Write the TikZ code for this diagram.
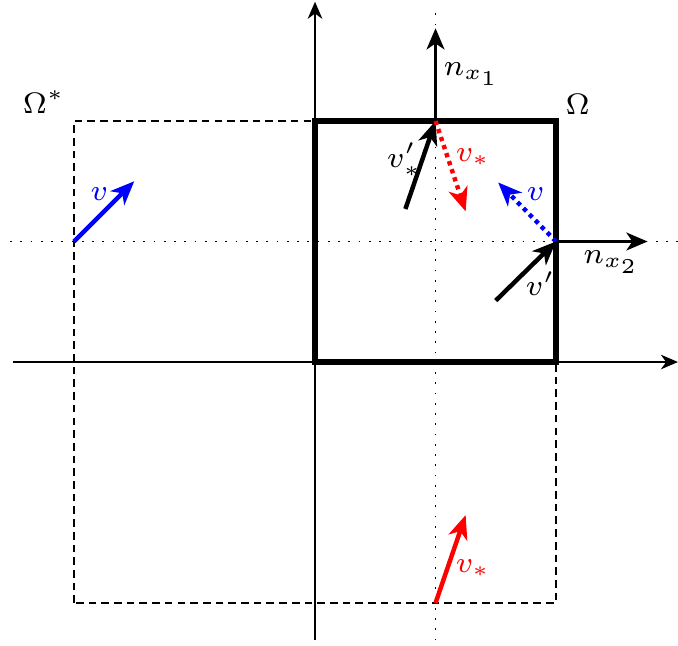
\documentclass[tikz,border=0pt]{standalone}
\usetikzlibrary{arrows.meta}
\begin{document}
\begin{tikzpicture}[x=1cm,y=1cm,
  lbl/.style={font=\fontsize{7.2}{8}\selectfont, inner sep=1pt},
  axisline/.style={line width=0.65pt, -{Stealth[length=4pt,width=3.4pt,inset=1.2pt]}},
  vecline/.style={line width=1.05pt, -{Stealth[length=5.6pt,width=4.6pt,inset=1.6pt]}},
  normalline/.style={line width=0.8pt, -{Stealth[length=5pt,width=4.2pt,inset=1.4pt]}},
  dotvec/.style={dash pattern=on 1pt off 1pt},
  guideline/.style={line width=0.42pt, dotted},
  domainbox/.style={line width=1.45pt},
  extbox/.style={line width=0.5pt, dash pattern=on 1.8pt off 1.2pt}]
\useasboundingbox (-2.614,-2.349) rectangle (3.012,3.004);
% coordinates
\coordinate (A1) at (-2.51,0);  \coordinate (A2) at (3.012,0);
\coordinate (B1) at (0,-2.31);  \coordinate (B2) at (0,2.99);
\coordinate (H1) at (-2.53,1);  \coordinate (H2) at (3.012,1);
\coordinate (V1) at (1,-2.31);  \coordinate (V2) at (1,2.92);
\coordinate (P1) at (1,2);      \coordinate (P2) at (2,1);
\coordinate (Q)  at (-2,1);     \coordinate (R)  at (1,-2);
\coordinate (N1) at (1,2.77);   \coordinate (N2) at (2.76,1);
\coordinate (S1) at (0.75,1.27); \coordinate (S2) at (1.25,1.25);
\coordinate (T1) at (1.52,1.49); \coordinate (T2) at (1.5,0.51);
\coordinate (U)  at (-1.5,1.5); \coordinate (W)  at (1.25,-1.27);
% guides
\draw[guideline] (H1) -- (H2);
\draw[guideline] (V1) -- (V2);
% extended domain
\draw[extbox] (-2,-2) rectangle (2,2);
% axes
\draw[axisline] (A1) -- (A2);
\draw[axisline] (B1) -- (B2);
% domain
\draw[domainbox] (0,0) rectangle (2,2);
% normals
\draw[normalline] (P1) -- (N1);
\draw[normalline] (P2) -- (N2);
\node[lbl] (nx1) at (1.30,2.39) {$n_{x_1}$};
\node[lbl] (nx2) at (2.46,0.83) {$n_{x_2}$};
% vectors at boundary
\draw[vecline] (S1) -- (P1);
\node[lbl] (lvsp) at (0.74,1.68) {$v'_*$};
\draw[vecline, red, dotvec] (P1) -- (S2);
\node[lbl, red] (lvs) at (1.31,1.70) {$v_*$};
\draw[vecline, blue, dotvec] (P2) -- (T1);
\node[lbl, blue] (lv) at (1.83,1.39) {$v$};
\draw[vecline] (T2) -- (P2);
\node[lbl] (lvp) at (1.87,0.65) {$v'$};
% vectors in extension
\draw[vecline, blue] (Q) -- (U);
\node[lbl, blue] (lv2) at (-1.79,1.39) {$v$};
\draw[vecline, red] (R) -- (W);
\node[lbl, red] (lvs2) at (1.31,-1.71) {$v_*$};
% domain labels
\node[lbl] (om) at (2.18,2.14) {$\Omega$};
\node[lbl] (oms) at (-2.25,2.16) {$\Omega^*$};
\end{tikzpicture}
\end{document}
